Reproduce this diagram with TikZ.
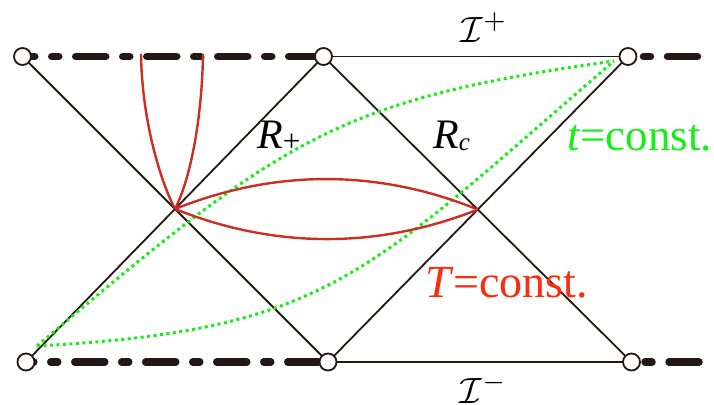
\documentclass[tikz,border=0pt]{standalone}
\usepackage{fontspec}
\setmainfont{Liberation Serif}
\definecolor{ink}{RGB}{35,24,21}
\definecolor{curvered}{RGB}{205,45,35}
\definecolor{textred}{RGB}{250,45,15}
\definecolor{dotgreen}{RGB}{20,240,20}
\begin{document}
\begin{tikzpicture}[x=1pt,y=-1pt,
  blackline/.style={draw=ink,line width=1.8pt},
  thickdash/.style={draw=ink,line width=7.5pt,line cap=round,dash pattern=on 30pt off 17pt on 7pt off 17pt},
  hole/.style={circle,draw=ink,fill=white,line width=1.8pt,minimum size=17pt,inner sep=0pt},
  redcurve/.style={draw=curvered,line width=2.4pt},
  greendots/.style={draw=dotgreen,line width=3pt,dash pattern=on 3pt off 3.5pt},
  txt/.style={inner sep=0pt,anchor=base west}
]
\useasboundingbox (0,0) rectangle (714,404);
% vertices
\coordinate (TL) at (22.5,56.5);
\coordinate (TM) at (323.5,56.5);
\coordinate (TR) at (628,56.5);
\coordinate (BL) at (26,362);
\coordinate (BM) at (328,362);
\coordinate (BR) at (631.5,362);
\coordinate (XL) at (intersection of TL--BM and BL--TM);
\coordinate (XR) at (intersection of TM--BR and BM--TR);
\coordinate (TRa) at (643.5,56.5);
\coordinate (TRb) at (697.5,56.5);
\coordinate (BRa) at (645,362);
\coordinate (BRb) at (699,362);
\coordinate (G0) at (37,346);
\coordinate (G1) at (614,61);
\coordinate (RA) at (141,54);
\coordinate (RB) at (203,54);
% thick dashed boundaries
\draw[thickdash,dash phase=17.75pt] (TL) -- (TM);
\draw[thickdash,dash phase=22.25pt] (BL) -- (BM);
\draw[thickdash,dash pattern=on 7pt off 17pt on 30pt off 17pt] (TRa) -- (TRb);
\draw[thickdash,dash pattern=on 7pt off 17pt on 30pt off 17pt] (BRa) -- (BRb);
% thin lines
\draw[blackline] (TL) -- (BM);
\draw[blackline] (BL) -- (TM);
\draw[blackline] (TM) -- (BR);
\draw[blackline] (BM) -- (TR);
\draw[blackline] (TM) -- (TR);
\draw[blackline] (BM) -- (BR);
% green t=const
\draw[greendots] (G0) .. controls (286,135) and (338,100) .. (G1);
\draw[greendots] (G0) .. controls (330,330) and (365,275) .. (G1);
% red T=const
\draw[redcurve] (RA) .. controls (142,120) and (160,180) .. (XL);
\draw[redcurve] (RB) .. controls (202,120) and (190,180) .. (XL);
\draw[redcurve] (XL) .. controls (275,169) and (378,169) .. (XR);
\draw[redcurve] (XL) .. controls (275,249) and (378,249) .. (XR);
% circles
\node[hole] (nTL) at (TL) {};
\node[hole] (nTM) at (TM) {};
\node[hole] (nTR) at (TR) {};
\node[hole] (nBL) at (BL) {};
\node[hole] (nBM) at (BM) {};
\node[hole] (nBR) at (BR) {};
% labels
\node[txt,scale=3.65] (Iplus) at (460,42) {$\mathcal{I}^+$};
\node[txt,scale=3.65] (Iminus) at (459,403) {$\mathcal{I}^-$};
\node[txt] (Rp) at (257,148) {\fontsize{42}{42}\selectfont\textit{R}\raisebox{-3pt}{\fontsize{31}{31}\selectfont +}};
\node[txt] (Rc) at (433,148) {\fontsize{42}{42}\selectfont\textit{R}\raisebox{-2pt}{\fontsize{25}{25}\selectfont\textit{c}}};
\node[txt,text=dotgreen] (tc) at (567,150) {\fontsize{45}{45}\selectfont\textit{t}=const.};
\node[txt,text=textred] (Tc) at (425,297) {\fontsize{46}{46}\selectfont\textit{T}=const.};
\end{tikzpicture}
\end{document}
